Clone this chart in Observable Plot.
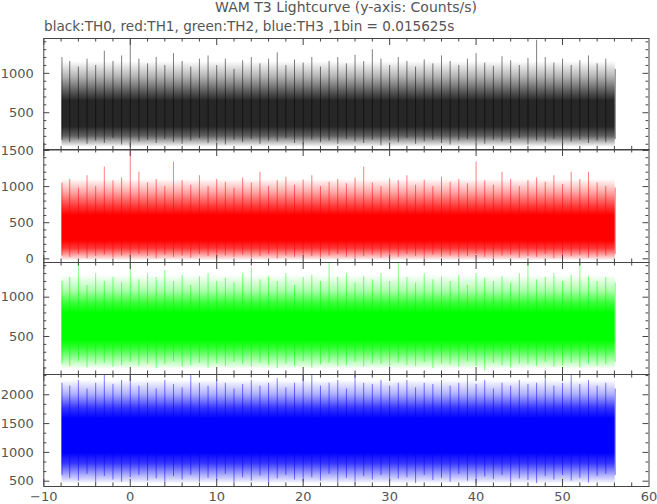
<!DOCTYPE html>
<html>
<head>
<meta charset="utf-8">
<script src="https://cdn.jsdelivr.net/npm/d3@7"></script>
<script src="https://cdn.jsdelivr.net/npm/@observablehq/plot@0.6"></script>
<style>
  body { margin: 0; background: #fff; }
  #wrap { position: relative; width: 657px; height: 504px; overflow: hidden; font-family: "DejaVu Sans", sans-serif; color: #555; }
  .ttl { position: absolute; line-height: 15px; white-space: nowrap; }
  #wrap svg { position: absolute; left: 0; overflow: visible; }
</style>
</head>
<body>
<div id="wrap">
  <div class="ttl" id="title" style="left:43px;width:606px;text-align:center;top:0px;font-size:14px;"></div>
  <div class="ttl" id="subtitle" style="left:44px;top:19px;font-size:13.6px;"></div>
</div>
<script>
const titleText = "WAM T3 Lightcurve (y-axis: Counts/s)";
const subtitleText = "black:TH0, red:TH1, green:TH2, blue:TH3 ,1bin = 0.015625s";

// time samples (s)
const T = [-7.9, -7, -6, -5, -4, -3, -2, -1, 0, 1, 2, 3, 4, 5, 6, 7, 8, 9, 10, 11, 12, 13, 14, 15, 16, 17, 18, 19, 20, 21, 22, 23, 24, 25, 26, 27, 28, 29, 30, 31, 32, 33, 34, 35, 36, 37, 38, 39, 40, 41, 42, 43, 44, 45, 46, 47, 48, 49, 50, 51, 52, 53, 54, 55, 56.1];

// per-second extremes of counts/s
const th0Hi = [1200, 1150, 1080, 1180, 1100, 1280, 1150, 1220, 1440, 1180,
  1120, 1200, 1100, 1250, 1150, 1080, 1180, 1220, 1100, 1180,
  1050, 1160, 1200, 1120, 1180, 1260, 1100, 1170, 1130, 1200,
  1080, 1150, 1200, 1120, 1230, 1150, 1300, 1180, 1100, 1200,
  1150, 1080, 1170, 1120, 1220, 1150, 1100, 1180, 1250, 1130,
  1090, 1210, 1160, 1100, 1190, 1420, 1200, 1130, 1180, 1100,
  1160, 1220, 1120, 1180, 1050];
const th0Lo = [150, 120, 160, 100, 140, 110, 170, 90, 60, 130,
  150, 110, 160, 120, 100, 140, 170, 110, 130, 90,
  150, 120, 160, 100, 140, 130, 170, 110, 90, 150,
  120, 140, 100, 160, 130, 110, 150, 80, 140, 120,
  170, 100, 130, 150, 110, 90, 140, 160, 120, 100,
  150, 130, 110, 170, 90, 140, 120, 160, 100, 130,
  150, 110, 140, 120, 160];
const th1Hi = [1050, 1100, 980, 1150, 1000, 1270, 1080, 1120, 1510, 1200,
  1050, 1100, 1000, 1340, 1080, 1020, 1150, 1000, 1100, 1060,
  980, 1120, 1050, 1200, 1000, 1080, 1130, 1020, 1090, 1150,
  1000, 1060, 1100, 1040, 1120, 1270, 1050, 1000, 1110, 1080,
  1150, 1020, 1090, 1000, 1130, 1060, 1100, 1040, 1340, 1080,
  1020, 1200, 1100, 1000, 1080, 1120, 1060, 1150, 1030, 1200,
  1100, 1200, 1050, 1000, 980];
const th1Lo = [40, 20, 60, 0, 30, 50, 10, 40, 20, 60,
  30, 0, 50, 20, 40, 10, 60, 30, 0, 40,
  20, 50, 10, 30, 60, 0, 40, 20, 50, 30,
  10, 40, 60, 20, 0, 30, 50, 10, 40, 20,
  60, 30, 0, 50, 20, 40, 10, 30, 60, 20,
  0, 40, 50, 10, 30, 20, 60, 0, 40, 30,
  50, 10, 20, 40, 60];
const th2Hi = [1200, 1250, 1440, 1150, 1300, 1200, 1250, 1180, 1440, 1220,
  1300, 1250, 1340, 1200, 1280, 1150, 1260, 1300, 1200, 1240,
  1180, 1300, 1380, 1220, 1260, 1200, 1300, 1150, 1250, 1280,
  1200, 1440, 1250, 1300, 1180, 1260, 1220, 1300, 1200, 1430,
  1250, 1180, 1300, 1220, 1260, 1200, 1280, 1150, 1300, 1240,
  1200, 1260, 1180, 1300, 1430, 1220, 1250, 1300, 1200, 1280,
  1440, 1260, 1200, 1250, 1180];
const th2Lo = [150, 120, 180, 100, 140, 160, 110, 130, 170, 120,
  150, 90, 140, 180, 110, 130, 160, 100, 150, 120,
  170, 140, 110, 160, 130, 90, 150, 120, 180, 100,
  140, 160, 120, 130, 170, 110, 150, 140, 100, 160,
  130, 120, 170, 90, 150, 140, 110, 180, 120, 60,
  160, 130, 100, 150, 140, 120, 170, 110, 130, 160,
  100, 150, 120, 140, 170];
const th3Hi = [2200, 2150, 2250, 2100, 2200, 2350, 2180, 2250, 2350, 2150,
  2200, 2100, 2250, 2180, 2120, 2350, 2200, 2150, 2250, 2200,
  2100, 2180, 2250, 2150, 2200, 2280, 2120, 2200, 2350, 2350,
  2150, 2200, 2250, 2100, 2350, 2200, 2180, 2250, 2150, 2200,
  2250, 2120, 2200, 2180, 2250, 2150, 2200, 2350, 2180, 2250,
  2100, 2200, 2150, 2250, 2180, 2200, 2300, 2150, 2200, 2350,
  2180, 2250, 2150, 2200, 2100];
const th3Lo = [600, 550, 500, 620, 450, 580, 520, 480, 560, 600,
  500, 540, 460, 580, 520, 600, 480, 550, 510, 620,
  470, 560, 500, 590, 450, 540, 600, 520, 480, 560,
  500, 620, 470, 550, 440, 580, 520, 600, 490, 540,
  560, 460, 600, 510, 550, 480, 620, 500, 450, 570,
  530, 600, 480, 540, 510, 460, 580, 520, 600, 500,
  550, 470, 580, 620, 600];

// density profile of each channel (counts/s): [fringeLo, fringeHi, lightLo, lightHi, midLo, midHi, coreLo, coreHi]
const th0Band = [60, 1150, 130, 950, 200, 780, 320, 650];
const th1Band = [-30, 1100, 40, 930, 140, 720, 250, 600];
const th2Band = [80, 1280, 190, 1080, 340, 920, 450, 790];
const th3Band = [450, 2250, 600, 2000, 810, 1760, 990, 1580];

// y domains of the panels
const th0Domain = [27, 1442];
const th1Domain = [-51, 1514];
const th2Domain = [17, 1441];
const th3Domain = [408, 2352];

// ticks
const xMajor = [-10, 0, 10, 20, 30, 40, 50, 60];
const xMinor = [-8, -6, -4, -2, 2, 4, 6, 8, 12, 14, 16, 18, 22, 24, 26, 28, 32, 34, 36, 38, 42, 44, 46, 48, 52, 54, 56, 58];
const th0Major = [500, 1000];
const th0Minor = [100, 200, 300, 400, 600, 700, 800, 900, 1100, 1200, 1300, 1400];
const th1Major = [0, 500, 1000, 1500];
const th1Minor = [100, 200, 300, 400, 600, 700, 800, 900, 1100, 1200, 1300, 1400];
const th2Major = [500, 1000];
const th2Minor = [100, 200, 300, 400, 600, 700, 800, 900, 1100, 1200, 1300, 1400];
const th3Major = [500, 1000, 1500, 2000];
const th3Minor = [666.7, 833.3, 1166.7, 1333.3, 1666.7, 1833.3, 2166.7, 2333.3];

const colors = ["#000000", "#ff0000", "#00ff00", "#0000ff"];

document.getElementById("title").textContent = titleText;
document.getElementById("subtitle").textContent = subtitleText;

const panels = [
  {hi: th0Hi, lo: th0Lo, band: th0Band, domain: th0Domain, major: th0Major, minor: th0Minor, color: colors[0], top: 37.5, bottom: 149, op: [0.3, 0.62, 0.85]},
  {hi: th1Hi, lo: th1Lo, band: th1Band, domain: th1Domain, major: th1Major, minor: th1Minor, color: colors[1], top: 149, bottom: 262, op: [0.32, 0.78, 1]},
  {hi: th2Hi, lo: th2Lo, band: th2Band, domain: th2Domain, major: th2Major, minor: th2Minor, color: colors[2], top: 262, bottom: 374, op: [0.32, 0.78, 1]},
  {hi: th3Hi, lo: th3Lo, band: th3Band, domain: th3Domain, major: th3Major, minor: th3Minor, color: colors[3], top: 374, bottom: 486, op: [0.32, 0.8, 1]}
];

const W = 657, ML = 43.3, MR = 8.5;
const iw = W - ML - MR;
const axisColor = "#444";
const wrap = document.getElementById("wrap");
const NS = "http://www.w3.org/2000/svg";

function addGradient(svg, id, color, band, op) {
  const [fLo, fHi, lLo, lHi, mLo, mHi, cLo, cHi] = band;
  const off = v => (fHi - v) / (fHi - fLo);
  const stops = [[fHi, 0], [lHi, op[0]], [mHi, op[1]], [cHi, op[2]], [cLo, op[2]], [mLo, op[1]], [lLo, op[0]], [fLo, 0]];
  const defs = document.createElementNS(NS, "defs");
  const lg = document.createElementNS(NS, "linearGradient");
  lg.setAttribute("id", id);
  lg.setAttribute("x1", "0"); lg.setAttribute("y1", "0");
  lg.setAttribute("x2", "0"); lg.setAttribute("y2", "1");
  for (const [v, o] of stops) {
    const s = document.createElementNS(NS, "stop");
    s.setAttribute("offset", off(v));
    s.setAttribute("stop-color", color);
    s.setAttribute("stop-opacity", o);
    lg.appendChild(s);
  }
  defs.appendChild(lg);
  svg.insertBefore(defs, svg.firstChild);
}

panels.forEach((p, k) => {
  const last = k === panels.length - 1;
  const mt = 8, mb = last ? 18 : 8;
  const ih = p.bottom - p.top;
  const data = T.map((t, i) => ({t, hi: p.hi[i], lo: p.lo[i]}));
  const t0 = T[0], t1 = T[T.length - 1];
  const gid = "band" + k;
  const marks = [
    Plot.rect([p.band], {x1: t0, x2: t1, y1: d => d[0], y2: d => d[1], fill: `url(#${gid})`}),
    Plot.ruleX(data, {x: "t", y1: "lo", y2: "hi", stroke: p.color, strokeOpacity: 0.5, strokeWidth: 1}),
    Plot.frame({stroke: axisColor, strokeWidth: 1}),
    Plot.tickX(xMajor, {x: d => d, insetBottom: ih - 7, stroke: axisColor}),
    Plot.tickX(xMinor, {x: d => d, insetBottom: ih - 3.5, stroke: axisColor}),
    Plot.tickX(xMajor, {x: d => d, insetTop: ih - 7, stroke: axisColor}),
    Plot.tickX(xMinor, {x: d => d, insetTop: ih - 3.5, stroke: axisColor}),
    Plot.tickY(p.major, {y: d => d, insetRight: iw - 6, stroke: axisColor}),
    Plot.tickY(p.minor, {y: d => d, insetRight: iw - 3, stroke: axisColor}),
    Plot.tickY(p.major, {y: d => d, insetLeft: iw - 6, stroke: axisColor}),
    Plot.tickY(p.minor, {y: d => d, insetLeft: iw - 3, stroke: axisColor}),
    Plot.axisY(p.major, {anchor: "left", tickSize: 0, tickPadding: 10, label: null, tickFormat: d => String(d)})
  ];
  if (last) marks.push(Plot.axisX(xMajor, {anchor: "bottom", tickSize: 0, tickPadding: 5, label: null, tickFormat: d => String(d).replace("-", "\u2212")}));
  const svg = Plot.plot({
    width: W,
    height: ih + mt + mb,
    marginLeft: ML, marginRight: MR, marginTop: mt, marginBottom: mb,
    x: {domain: [-10, 60], axis: last ? undefined : null},
    y: {domain: p.domain},
    clip: true,
    style: {fontFamily: "DejaVu Sans", fontSize: "13px", color: "#555", background: "transparent", overflow: "visible"},
    marks
  });
  addGradient(svg, gid, p.color, p.band, p.op);
  svg.style.top = (p.top - mt) + "px";
  wrap.appendChild(svg);
});
</script>
</body>
</html>
